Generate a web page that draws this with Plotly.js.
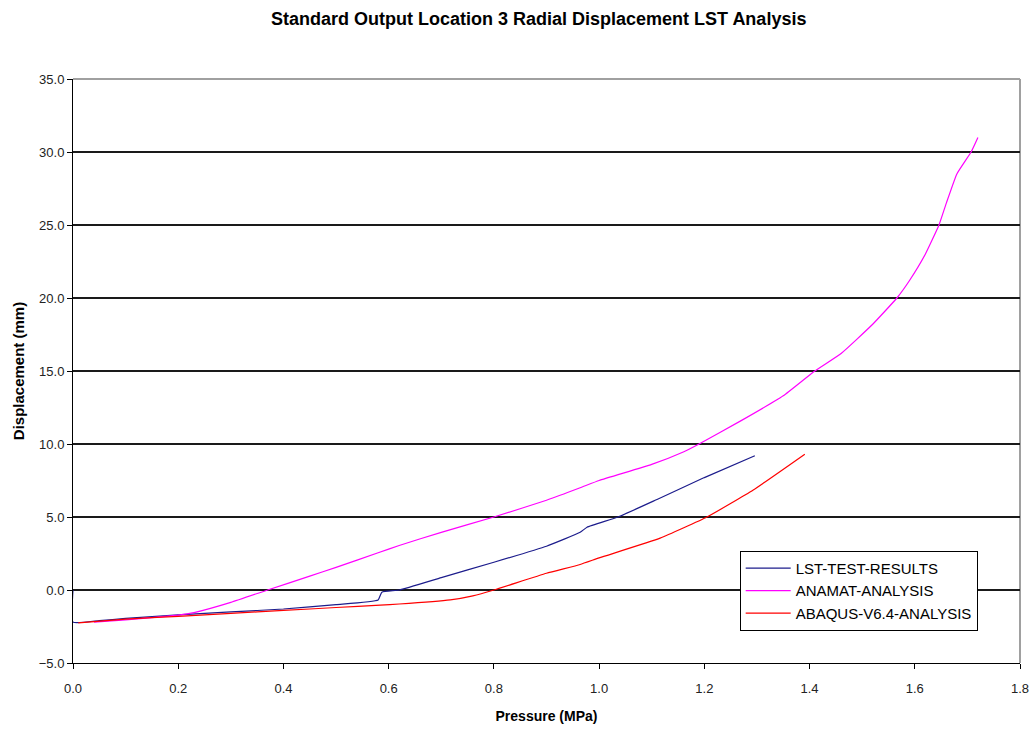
<!DOCTYPE html>
<html>
<head>
<meta charset="utf-8">
<script src="https://cdn.plot.ly/plotly-3.0.1.min.js"></script>
<style>html,body{margin:0;padding:0;background:#fff;}#chart{width:1034px;height:734px;}</style>
</head>
<body>
<div id="chart"></div>
<script>
const lstPressure = [0, 0, 0.05, 0.10, 0.20, 0.30, 0.40, 0.50, 0.58, 0.587, 0.62, 0.70, 0.80, 0.90, 0.964, 0.977, 1.036, 1.11, 1.20, 1.296];
const lstDisp     = [0, -2.2, -2.1, -1.95, -1.7, -1.5, -1.3, -1.0, -0.68, -0.15, 0.0, 0.85, 1.9, 3.0, 3.95, 4.3, 5.0, 6.2, 7.7, 9.2];

const anamatPressure = [0.04, 0.10, 0.20, 0.23, 0.30, 0.37, 0.45, 0.50, 0.58, 0.62, 0.70, 0.80, 0.90, 0.964, 1.00, 1.10, 1.16, 1.19, 1.27, 1.35, 1.41, 1.46, 1.52, 1.566, 1.59, 1.62, 1.646, 1.66, 1.68, 1.707, 1.72];
const anamatDisp     = [-2.2, -2.05, -1.72, -1.55, -0.85, 0.0, 0.95, 1.55, 2.55, 3.05, 3.95, 5.0, 6.15, 7.0, 7.5, 8.6, 9.45, 10.0, 11.6, 13.3, 15.0, 16.2, 18.2, 20.0, 21.2, 23.0, 25.0, 26.5, 28.5, 30.0, 31.0];

const abaqusPressure = [0.01, 0.10, 0.20, 0.30, 0.40, 0.50, 0.584, 0.62, 0.717, 0.76, 0.80, 0.90, 0.964, 1.00, 1.116, 1.205, 1.293, 1.391];
const abaqusDisp     = [-2.25, -2.0, -1.8, -1.6, -1.4, -1.2, -1.03, -0.96, -0.68, -0.4, 0.0, 1.15, 1.75, 2.2, 3.55, 5.0, 6.85, 9.3];

const seriesNames = ["LST-TEST-RESULTS", "ANAMAT-ANALYSIS", "ABAQUS-V6.4-ANALYSIS"];
const xTicks = [0, 0.2, 0.4, 0.6, 0.8, 1.0, 1.2, 1.4, 1.6, 1.8];
const yTicks = [-5, 0, 5, 10, 15, 20, 25, 30, 35];

const fontFam = "Liberation Sans, Arial, sans-serif";

const traces = [
  {x: lstPressure, y: lstDisp, name: seriesNames[0], mode: "lines", line: {color: "#1c1c8c", width: 1.2, shape: "spline", smoothing: 0.4}},
  {x: anamatPressure, y: anamatDisp, name: seriesNames[1], mode: "lines", line: {color: "#ff00ff", width: 1.2, shape: "spline", smoothing: 0.4}},
  {x: abaqusPressure, y: abaqusDisp, name: seriesNames[2], mode: "lines", line: {color: "#ff0000", width: 1.2, shape: "spline", smoothing: 0.4}}
];

const layout = {
  width: 1034, height: 734,
  margin: {l: 73, r: 14, t: 79, b: 71},
  paper_bgcolor: "#ffffff", plot_bgcolor: "#ffffff",
  font: {family: fontFam, size: 13, color: "#000"},
  title: {text: "<b>Standard Output Location 3 Radial Displacement LST Analysis</b>", x: 0.521, xanchor: "center", y: 0.975, yanchor: "middle", font: {size: 18, family: fontFam}},
  xaxis: {
    range: [0, 1.8], tickvals: xTicks, tickformat: ".1f",
    showline: true, linecolor: "#000", linewidth: 1,
    ticks: "outside", ticklen: 5, tickcolor: "#000",
    ticklabelstandoff: 8,
    showgrid: false, zeroline: false,
    title: {text: "<b>Pressure (MPa)</b>", font: {size: 14}, standoff: 16},
    tickfont: {size: 13, color: "#222"}
  },
  yaxis: {
    range: [-5, 35], tickvals: yTicks, tickformat: ".1f",
    showline: true, linecolor: "#000", linewidth: 1,
    ticks: "outside", ticklen: 5, tickcolor: "#000",
    showgrid: true, gridcolor: "#1a1a1a", gridwidth: 1.2, zeroline: false,
    title: {text: "<b>Displacement (mm)</b>", font: {size: 15}, standoff: 10},
    tickfont: {size: 13, color: "#222"}
  },
  shapes: [
    {type: "line", xref: "paper", yref: "paper", x0: 0, x1: 1, y0: 1, y1: 1, line: {color: "#a0a0a0", width: 2}, layer: "below"},
    {type: "line", xref: "paper", yref: "paper", x0: 1, x1: 1, y0: 0, y1: 1, line: {color: "#a0a0a0", width: 2}, layer: "below"}
  ],
  showlegend: true,
  legend: {
    x: 0.704, y: 0.192, xanchor: "left", yanchor: "top",
    bgcolor: "#ffffff", bordercolor: "#000", borderwidth: 1,
    font: {size: 15, family: fontFam, color: "#000"},
    itemwidth: 45, tracegroupgap: 0
  }
};

Plotly.newPlot("chart", traces, layout, {displayModeBar: false, staticPlot: true});
</script>
</body>
</html>
